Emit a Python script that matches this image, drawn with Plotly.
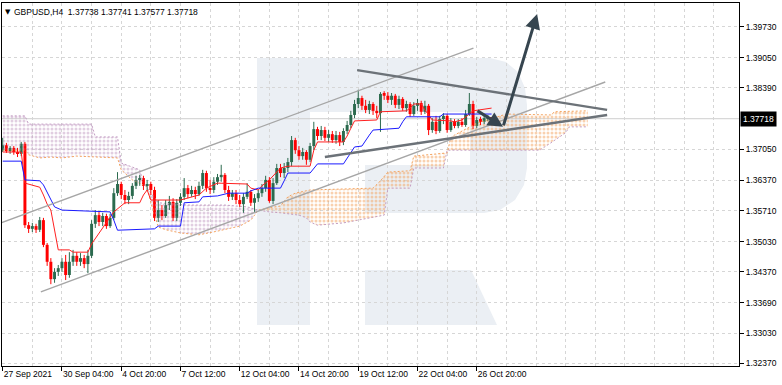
import plotly.graph_objects as go

# ---------------- data ----------------
TICK_BARS = [0, 16, 32, 48, 64, 80, 96, 112, 128]
TICK_LABELS = ["27 Sep 2021", "30 Sep 04:00", "4 Oct 20:00", "7 Oct 12:00", "12 Oct 04:00",
               "14 Oct 20:00", "19 Oct 12:00", "22 Oct 04:00", "26 Oct 20:00"]
PRICE_TICKS = [1.39730, 1.39050, 1.38390, 1.37050, 1.36370, 1.35710, 1.35030,
               1.34370, 1.33690, 1.33030, 1.32370]

OPEN = [1.3703, 1.3714, 1.3701, 1.3708, 1.3699, 1.3695, 1.3717, 1.3539, 1.3531, 1.3537,
        1.3529, 1.3550, 1.3496, 1.3459, 1.3421, 1.3437, 1.3445, 1.3459, 1.3430, 1.3459,
        1.3472, 1.3459, 1.3467, 1.3454, 1.3472, 1.3542, 1.3561, 1.3546, 1.3559, 1.3537,
        1.3555, 1.3609, 1.3629, 1.3605, 1.3594, 1.3603, 1.3625, 1.3638, 1.3642, 1.3625,
        1.3629, 1.3616, 1.3555, 1.3572, 1.3559, 1.3583, 1.3590, 1.3555, 1.3588, 1.3601,
        1.3620, 1.3607, 1.3616, 1.3607, 1.3625, 1.3653, 1.3620, 1.3616, 1.3634, 1.3644,
        1.3649, 1.3616, 1.3601, 1.3609, 1.3594, 1.3585, 1.3601, 1.3612, 1.3588, 1.3598,
        1.3609, 1.3620, 1.3638, 1.3592, 1.3631, 1.3664, 1.3653, 1.3664, 1.3677, 1.3725,
        1.3703, 1.3690, 1.3699, 1.3682, 1.3712, 1.3749, 1.3734, 1.3747, 1.3730, 1.3738,
        1.3725, 1.3736, 1.3721, 1.3745, 1.3758, 1.3780, 1.3804, 1.3817, 1.3800, 1.3791,
        1.3804, 1.3789, 1.3784, 1.3826, 1.3822, 1.3813, 1.3822, 1.3802, 1.3815, 1.3795,
        1.3804, 1.3782, 1.3800, 1.3806, 1.3787, 1.3800, 1.3747, 1.3765, 1.3745, 1.3771,
        1.3778, 1.3747, 1.3765, 1.3756, 1.3765, 1.3758, 1.3782, 1.3804, 1.3756, 1.3769,
        1.3765, 1.3773, 1.37738]
HIGH = [1.3730, 1.3719, 1.3712, 1.3712, 1.3708, 1.3721, 1.3721, 1.3546, 1.3544, 1.3542,
        1.3557, 1.3555, 1.3500, 1.3467, 1.3445, 1.3452, 1.3467, 1.3474, 1.3480, 1.3485,
        1.3480, 1.3478, 1.3474, 1.3485, 1.3550, 1.3572, 1.3568, 1.3566, 1.3564, 1.3564,
        1.3620, 1.3655, 1.3634, 1.3616, 1.3612, 1.3631, 1.3647, 1.3649, 1.3647, 1.3638,
        1.3634, 1.3623, 1.3594, 1.3583, 1.3594, 1.3603, 1.3598, 1.3596, 1.3609, 1.3642,
        1.3627, 1.3625, 1.3623, 1.3634, 1.3660, 1.3658, 1.3638, 1.3644, 1.3651, 1.3671,
        1.3653, 1.3625, 1.3616, 1.3616, 1.3605, 1.3609, 1.3631, 1.3616, 1.3607, 1.3616,
        1.3629, 1.3647, 1.3644, 1.3642, 1.3673, 1.3673, 1.3675, 1.3686, 1.3734, 1.3730,
        1.3712, 1.3708, 1.3703, 1.3719, 1.3765, 1.3754, 1.3756, 1.3754, 1.3747, 1.3745,
        1.3745, 1.3743, 1.3751, 1.3767, 1.3789, 1.3813, 1.3835, 1.3822, 1.3813, 1.3811,
        1.3808, 1.3800, 1.3830, 1.3832, 1.3830, 1.3828, 1.3826, 1.3822, 1.3819, 1.3811,
        1.3808, 1.3808, 1.3815, 1.3811, 1.3811, 1.3804, 1.3773, 1.3778, 1.3778, 1.3784,
        1.3782, 1.3773, 1.3771, 1.3771, 1.3773, 1.3791, 1.3828, 1.3811, 1.3776, 1.3776,
        1.3778, 1.3780, 1.37741]
LOW = [1.3699, 1.3697, 1.3695, 1.3693, 1.3688, 1.3690, 1.3533, 1.3522, 1.3524, 1.3522,
       1.3524, 1.3491, 1.3450, 1.3410, 1.3413, 1.3428, 1.3437, 1.3419, 1.3424, 1.3450,
       1.3450, 1.3450, 1.3445, 1.3434, 1.3467, 1.3533, 1.3537, 1.3537, 1.3531, 1.3533,
       1.3550, 1.3603, 1.3596, 1.3585, 1.3585, 1.3596, 1.3618, 1.3625, 1.3616, 1.3614,
       1.3605, 1.3548, 1.3546, 1.3550, 1.3555, 1.3572, 1.3548, 1.3548, 1.3581, 1.3594,
       1.3598, 1.3601, 1.3596, 1.3603, 1.3618, 1.3612, 1.3607, 1.3609, 1.3627, 1.3634,
       1.3609, 1.3592, 1.3594, 1.3585, 1.3579, 1.3566, 1.3596, 1.3581, 1.3568, 1.3590,
       1.3601, 1.3612, 1.3588, 1.3585, 1.3627, 1.3644, 1.3642, 1.3655, 1.3668, 1.3695,
       1.3682, 1.3682, 1.3671, 1.3677, 1.3703, 1.3725, 1.3725, 1.3723, 1.3721, 1.3719,
       1.3717, 1.3712, 1.3714, 1.3738, 1.3751, 1.3773, 1.3795, 1.3791, 1.3784, 1.3782,
       1.3780, 1.3773, 1.3743, 1.3813, 1.3806, 1.3802, 1.3795, 1.3793, 1.3789, 1.3787,
       1.3776, 1.3778, 1.3789, 1.3780, 1.3782, 1.3736, 1.3741, 1.3738, 1.3741, 1.3760,
       1.3741, 1.3743, 1.3751, 1.3751, 1.3754, 1.3754, 1.3778, 1.3749, 1.3751, 1.3758,
       1.3760, 1.3767, 1.37577]
CLOSE = [1.3714, 1.3701, 1.3708, 1.3699, 1.3695, 1.3717, 1.3539, 1.3531, 1.3537, 1.3529,
         1.3550, 1.3496, 1.3459, 1.3421, 1.3437, 1.3445, 1.3459, 1.3430, 1.3459, 1.3472,
         1.3459, 1.3467, 1.3454, 1.3472, 1.3542, 1.3561, 1.3546, 1.3559, 1.3537, 1.3555,
         1.3609, 1.3629, 1.3605, 1.3594, 1.3603, 1.3625, 1.3638, 1.3642, 1.3625, 1.3629,
         1.3616, 1.3555, 1.3572, 1.3559, 1.3583, 1.3590, 1.3555, 1.3588, 1.3601, 1.3620,
         1.3607, 1.3616, 1.3607, 1.3625, 1.3653, 1.3620, 1.3616, 1.3634, 1.3644, 1.3649,
         1.3616, 1.3601, 1.3609, 1.3594, 1.3585, 1.3601, 1.3612, 1.3588, 1.3598, 1.3609,
         1.3620, 1.3638, 1.3592, 1.3631, 1.3664, 1.3653, 1.3664, 1.3677, 1.3725, 1.3703,
         1.3690, 1.3699, 1.3682, 1.3712, 1.3749, 1.3734, 1.3747, 1.3730, 1.3738, 1.3725,
         1.3736, 1.3721, 1.3745, 1.3758, 1.3780, 1.3804, 1.3817, 1.3800, 1.3791, 1.3804,
         1.3789, 1.3784, 1.3826, 1.3822, 1.3813, 1.3822, 1.3802, 1.3815, 1.3795, 1.3804,
         1.3782, 1.3800, 1.3806, 1.3787, 1.3800, 1.3747, 1.3765, 1.3745, 1.3771, 1.3778,
         1.3747, 1.3765, 1.3756, 1.3765, 1.3758, 1.3782, 1.3804, 1.3756, 1.3769, 1.3765,
         1.3773, 1.37738, 1.37718]

# Ichimoku lines, read as (bar, price) vertices
TENKAN_BAR = [0, 5, 6, 10, 11, 12, 13, 14, 15, 18, 19, 23, 24, 30, 33, 37, 38, 39, 40, 48,
              50, 53, 55, 58, 66, 67, 69, 70, 72, 75, 77, 83, 84, 85, 92, 93, 94, 95, 101,
              102, 109, 110, 111, 113, 114, 116, 121, 122, 124, 125, 126, 127, 132]
TENKAN = [1.3699, 1.3699, 1.3631, 1.3622, 1.3605, 1.3585, 1.3572, 1.3528, 1.3485, 1.3485,
          1.3480, 1.3480, 1.3498, 1.3568, 1.3588, 1.3588, 1.3605, 1.3616, 1.3594, 1.3594,
          1.3598, 1.3605, 1.3620, 1.3631, 1.3629, 1.3620, 1.3616, 1.3625, 1.3638, 1.3664,
          1.3668, 1.3668, 1.3703, 1.3721, 1.3721, 1.3734, 1.3751, 1.3767, 1.3769, 1.3787,
          1.3789, 1.3795, 1.3804, 1.3804, 1.3791, 1.3769, 1.3767, 1.3765, 1.3769, 1.3776,
          1.3784, 1.3789, 1.3795]
KIJUN_BAR = [0, 5, 6, 10, 11, 14, 16, 25, 29, 30, 31, 41, 42, 48, 49, 53, 54, 58, 61, 66,
             67, 69, 75, 76, 77, 83, 84, 85, 92, 93, 94, 95, 97, 98, 99, 100, 107, 108, 109,
             118, 119, 132]
KIJUN = [1.3679, 1.3679, 1.3638, 1.3636, 1.3627, 1.3579, 1.3572, 1.3570, 1.3568, 1.3550,
         1.3528, 1.3531, 1.3537, 1.3537, 1.3588, 1.3590, 1.3601, 1.3603, 1.3609, 1.3609,
         1.3614, 1.3620, 1.3620, 1.3636, 1.3653, 1.3653, 1.3664, 1.3673, 1.3673, 1.3686,
         1.3699, 1.3710, 1.3712, 1.3725, 1.3736, 1.3747, 1.3751, 1.3765, 1.3776, 1.3776,
         1.3782, 1.3782]
SPAN_A_BAR = [0, 6, 7, 10, 13, 16, 20, 24, 31, 32, 35, 39, 40, 42, 44, 48, 53, 58, 62, 64,
              67, 69, 72, 75, 77, 79, 83, 100, 102, 104, 110, 111, 120, 121, 122, 128, 136,
              148, 149, 158]
SPAN_A = [1.3703, 1.3703, 1.3693, 1.3686, 1.3688, 1.3686, 1.3690, 1.3688, 1.3686, 1.3660,
          1.3638, 1.3623, 1.3588, 1.3535, 1.3529, 1.3522, 1.3518, 1.3526, 1.3533, 1.3537,
          1.3550, 1.3572, 1.3577, 1.3581, 1.3601, 1.3609, 1.3616, 1.3620, 1.3636, 1.3655,
          1.3658, 1.3690, 1.3697, 1.3730, 1.3736, 1.3762, 1.3782, 1.3780, 1.3787, 1.3789]
SPAN_B_BAR = [0, 6, 7, 24, 25, 31, 32, 37, 38, 40, 42, 50, 60, 66, 69, 72, 75, 80, 82, 83,
              85, 92, 96, 101, 103, 104, 110, 111, 119, 120, 145, 148, 151, 152, 153, 158]
SPAN_B = [1.3778, 1.3778, 1.3760, 1.3760, 1.3732, 1.3732, 1.3675, 1.3660, 1.3631, 1.3609,
          1.3588, 1.3583, 1.3583, 1.3579, 1.3572, 1.3568, 1.3566, 1.3561, 1.3555, 1.3546,
          1.3539, 1.3544, 1.3550, 1.3557, 1.3561, 1.3620, 1.3620, 1.3664, 1.3664, 1.3703,
          1.3703, 1.3719, 1.3736, 1.3741, 1.3754, 1.3754]
TWIST_BAR = 69

LAST_PRICE = 1.37718
INFO_TEXT = "GBPUSD,H4\u00a0\u00a01.37738 1.37741 1.37577 1.37718"

# analyst drawings (bar, price)
CHANNEL_UP_BAR, CHANNEL_UP = [-0.73, 127.1], [1.3543, 1.3926]
CHANNEL_LO_BAR, CHANNEL_LO = [10.3, 162.7], [1.3393, 1.3852]
TRI_TOP_BAR, TRI_TOP = [95.7, 163.2], [1.3878, 1.3791]
TRI_BOT_BAR, TRI_BOT = [87.0, 163.2], [1.3688, 1.3780]
ARROW_DOWN_BAR, ARROW_DOWN = [127.8, 135.1], [1.3791, 1.3754]
ARROW_UP_BAR, ARROW_UP = [135.1, 144.3], [1.3754, 1.4001]

# ---------------- styling ----------------
FONT = "Liberation Sans"
GRID = "#d6d6d6"
BULL = "#2c6b4f"
BEAR = "#ff0000"
SANDY = "#f4a460"
THISTLE = "#c49ec4"
WATERMARK = "#ebeff4"
DRAW_LIGHT = "#a6a6a6"
DRAW_DARK = "#6c7278"
ARROW_COL = "#36454f"

fig = go.Figure()

# cloud (kumo) polygons split at the twist
def poly(lo, hi):
    ax = [b for b in SPAN_A_BAR if lo <= b <= hi]
    ay = [v for b, v in zip(SPAN_A_BAR, SPAN_A) if lo <= b <= hi]
    bx = [b for b in SPAN_B_BAR if lo <= b <= hi]
    by = [v for b, v in zip(SPAN_B_BAR, SPAN_B) if lo <= b <= hi]
    return ax + bx[::-1], ay + by[::-1]

for (lo, hi, col) in [(0, TWIST_BAR, THISTLE), (TWIST_BAR, 999, SANDY)]:
    px_, py_ = poly(lo, hi)
    fig.add_trace(go.Scatter(
        x=px_, y=py_, mode="lines", fill="toself", line=dict(width=0),
        fillcolor="rgba(255,255,255,0)",
        fillpattern=dict(shape=".", fgcolor=col, bgcolor="rgba(255,255,255,0)",
                         size=4, solidity=0.45),
        hoverinfo="skip"))

fig.add_trace(go.Scatter(x=SPAN_A_BAR, y=SPAN_A, mode="lines",
                         line=dict(color=SANDY, width=1, dash="2px,2px"), hoverinfo="skip"))
fig.add_trace(go.Scatter(x=SPAN_B_BAR, y=SPAN_B, mode="lines",
                         line=dict(color=THISTLE, width=1, dash="2px,2px"), hoverinfo="skip"))

# candles
idx = list(range(len(OPEN)))
up = [c >= o for o, c in zip(OPEN, CLOSE)]
for flag, col in [(True, BULL), (False, BEAR)]:
    wx, wy = [], []
    for i in idx:
        if up[i] == flag:
            wx += [i, i, None]
            wy += [LOW[i], HIGH[i], None]
    fig.add_trace(go.Scatter(x=wx, y=wy, mode="lines", line=dict(color=col, width=1),
                             hoverinfo="skip"))
fig.add_trace(go.Bar(x=idx, y=[c - o for o, c in zip(OPEN, CLOSE)], base=OPEN, width=0.8,
                     marker=dict(color=[BULL if u else BEAR for u in up], line=dict(width=0)),
                     hoverinfo="skip"))

# tenkan / kijun
fig.add_trace(go.Scatter(x=TENKAN_BAR, y=TENKAN, mode="lines",
                         line=dict(color="#ff2020", width=1), hoverinfo="skip"))
fig.add_trace(go.Scatter(x=KIJUN_BAR, y=KIJUN, mode="lines",
                         line=dict(color="#1a1aff", width=1), hoverinfo="skip"))

# drawings
for bx, by, col, w in [(CHANNEL_UP_BAR, CHANNEL_UP, DRAW_LIGHT, 1.4),
                       (CHANNEL_LO_BAR, CHANNEL_LO, DRAW_LIGHT, 1.4),
                       (TRI_TOP_BAR, TRI_TOP, DRAW_DARK, 2.4),
                       (TRI_BOT_BAR, TRI_BOT, DRAW_DARK, 2.4)]:
    fig.add_trace(go.Scatter(x=bx, y=by, mode="lines", line=dict(color=col, width=w),
                             hoverinfo="skip"))

annotations = []
for bx, by in [(ARROW_DOWN_BAR, ARROW_DOWN), (ARROW_UP_BAR, ARROW_UP)]:
    annotations.append(dict(x=bx[1], y=by[1], ax=bx[0], ay=by[0], xref="x", yref="y",
                            axref="x", ayref="y", text="", showarrow=True, arrowhead=2,
                            arrowsize=1.0, arrowwidth=3, arrowcolor=ARROW_COL))

annotations.append(dict(xref="paper", yref="y", x=1, y=LAST_PRICE, xanchor="left",
                        yanchor="middle", text=f"{LAST_PRICE:.5f}", showarrow=False,
                        bgcolor="black", font=dict(color="white", size=8.5, family=FONT),
                        borderpad=2, xshift=1))
annotations.append(dict(xref="paper", yref="paper", x=0, y=1, xanchor="left", yanchor="top",
                        xshift=1, yshift=-3, text="\u25bc", showarrow=False,
                        font=dict(size=7, color="black", family="DejaVu Sans")))
annotations.append(dict(xref="paper", yref="paper", x=0, y=1, xanchor="left", yanchor="top",
                        xshift=10, yshift=-2, text=INFO_TEXT, showarrow=False,
                        font=dict(size=8.5, color="black", family=FONT)))

# watermark "R" (pixel positions -> paper)
def X(p):
    return (p - 2) / 737.0

def Y(p):
    return (366 - p) / 363.0

def rect(x0, y0, x1, y1):
    return dict(type="rect", xref="paper", yref="paper", x0=X(x0), x1=X(x1), y0=Y(y1), y1=Y(y0),
                fillcolor=WATERMARK, line=dict(width=0), layer="below")

def path(pts):
    d = "M " + " L ".join(f"{X(a):.5f},{Y(b):.5f}" for a, b in pts) + " Z"
    return dict(type="path", xref="paper", yref="paper", path=d, fillcolor=WATERMARK,
                line=dict(width=0), layer="below")

shapes = [
    rect(257, 58, 310, 325),
    rect(310, 58, 470, 112),
    rect(365, 165, 470, 213),
    path([(470, 58), (490, 58), (506, 62), (518, 72), (525, 88), (527, 105), (527, 168),
          (524, 185), (515, 200), (500, 210), (484, 213), (470, 213)]),
    path([(365, 270), (471, 270), (497, 325), (365, 325)]),
    dict(type="line", xref="paper", yref="y", x0=0, x1=1, y0=LAST_PRICE, y1=LAST_PRICE,
         line=dict(color="#cfcfcf", width=1), layer="below"),
]

fig.update_layout(
    width=782, height=385, margin=dict(l=2, r=43, t=3, b=19, autoexpand=False),
    paper_bgcolor="white", plot_bgcolor="white", showlegend=False,
    font=dict(family=FONT, size=8.5, color="black"),
    annotations=annotations, shapes=shapes,
)
fig.update_xaxes(
    range=[-0.19, 198.81], tickvals=TICK_BARS, ticktext=TICK_LABELS, tickangle=0,
    ticks="outside", ticklen=4, tickcolor="black", ticklabelposition="outside right",
    tickfont=dict(size=8.5, family=FONT, color="black"),
    showgrid=True, gridcolor=GRID, griddash="3px,3px", gridwidth=1,
    minor=dict(dtick=8, tick0=0, showgrid=True, gridcolor=GRID, griddash="3px,3px", ticks=""),
    showline=True, linecolor="black", linewidth=1, mirror=True, zeroline=False,
)
fig.update_yaxes(
    side="right", range=[1.32311, 1.40248], tickvals=PRICE_TICKS,
    ticktext=[f"{v:.5f}" for v in PRICE_TICKS], ticks="outside", ticklen=4,
    tickcolor="black", tickfont=dict(size=8.5, family=FONT, color="black"),
    showgrid=True, gridcolor=GRID, griddash="3px,3px", gridwidth=1,
    showline=True, linecolor="black", linewidth=1, mirror=True, zeroline=False,
)

fig.write_html("out.html", config={"displayModeBar": False},
               post_script="document.body.style.margin='0';")
